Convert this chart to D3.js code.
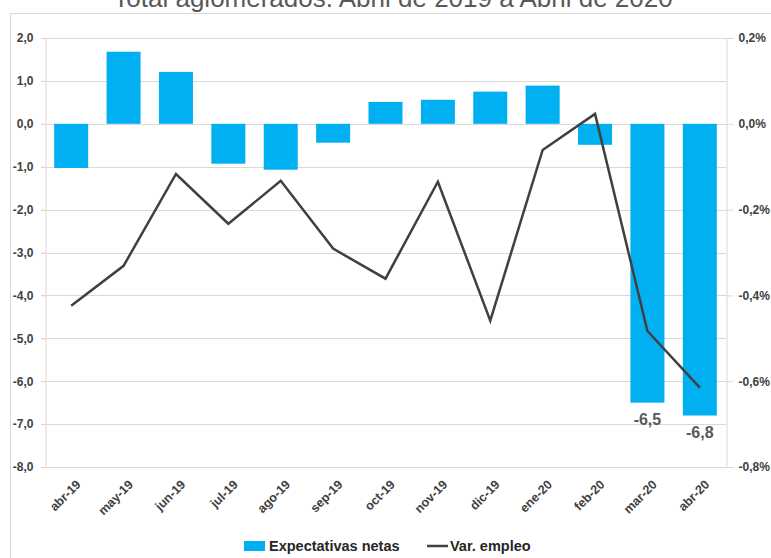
<!DOCTYPE html>
<html>
<meta charset="utf-8">
<title>Expectativas netas y Var. empleo</title>
<style>
  body { margin: 0; background: #fff; }
  text { font-family: "Liberation Sans", Arial, sans-serif; }
  .title { font-size: 26px; fill: #595959; }
  .axis text { font-size: 12px; font-weight: bold; fill: #404040; }
  .axis path, .axis line { stroke: #d9d9d9; }
  .grid line { stroke: #d9d9d9; stroke-width: 1; }
  .legend text { font-size: 14.5px; font-weight: bold; fill: #262626; }
</style>
<body>
<script src="https://d3js.org/d3.v7.min.js"></script>
<script>
// data
var months = ["abr-19", "may-19", "jun-19", "jul-19", "ago-19", "sep-19", "oct-19",
              "nov-19", "dic-19", "ene-20", "feb-20", "mar-20", "abr-20"];
var expectativas = [-1.03, 1.68, 1.21, -0.93, -1.07, -0.44, 0.51, 0.56, 0.75, 0.89, -0.49, -6.5, -6.8];
// Var. empleo, in percent
var empleo = [-0.424, -0.331, -0.117, -0.233, -0.133, -0.291, -0.361, -0.135, -0.459, -0.061, 0.023, -0.483, -0.615];
var leftTicks = [2, 1, 0, -1, -2, -3, -4, -5, -6, -7, -8];
var rightTicks = [0.2, 0, -0.2, -0.4, -0.6, -0.8];
var labelled = ["mar-20", "abr-20"];

var W = 771, H = 558;
var m = {top: 38, right: 45, bottom: 91, left: 45};

// spanish style numbers: comma decimal, plain hyphen minus
var es = d3.formatLocale({decimal: ",", thousands: ".", grouping: [3], currency: ["", "€"], minus: "-"});
var f1 = es.format(".1f");
var fPct = function(d) { return f1(d) + "%"; };

var svg = d3.select("body").append("svg")
    .attr("width", W)
    .attr("height", H);

// chart frame
svg.append("rect")
    .attr("x", 10.5).attr("y", 13.5)
    .attr("width", W + 20).attr("height", H + 20)
    .attr("fill", "none").attr("stroke", "#d9d9d9");

svg.append("text")
    .attr("class", "title")
    .attr("x", 393).attr("y", 7)
    .attr("text-anchor", "middle")
    .text("Total aglomerados. Abril de 2019 a Abril de 2020");

var x = d3.scaleBand()
    .domain(months)
    .range([m.left, W - m.right])
    .paddingInner(0.34)
    .paddingOuter(0.17);

var y = d3.scaleLinear().domain([-8, 2]).range([H - m.bottom, m.top]);
var y2 = d3.scaleLinear().domain([-0.8, 0.2]).range([H - m.bottom, m.top]);

// gridlines
svg.append("g").attr("class", "grid")
  .selectAll("line")
    .data(leftTicks)
  .enter().append("line")
    .attr("x1", m.left - 4).attr("x2", W - m.right)
    .attr("y1", function(d) { return Math.round(y(d)) + 0.5; })
    .attr("y2", function(d) { return Math.round(y(d)) + 0.5; });

svg.append("g")
    .attr("class", "axis")
    .attr("transform", "translate(" + (m.left + 0.5) + ",0)")
    .call(d3.axisLeft(y).tickValues(leftTicks).tickSize(4).tickPadding(8).tickFormat(f1));

svg.append("g")
    .attr("class", "axis")
    .attr("transform", "translate(" + (W - m.right + 0.5) + ",0)")
    .call(d3.axisRight(y2).tickValues(rightTicks).tickSize(7).tickPadding(5).tickFormat(fPct));

// bars
var bw = 34;
svg.append("g")
  .selectAll("rect")
    .data(months)
  .enter().append("rect")
    .attr("x", function(d) { return x(d) + x.bandwidth() / 2 - bw / 2; })
    .attr("width", bw)
    .attr("y", function(d, i) { return y(Math.max(0, expectativas[i])); })
    .attr("height", function(d, i) { return Math.abs(y(expectativas[i]) - y(0)); })
    .attr("fill", "#00b0f0");

// data labels
svg.append("g")
  .selectAll("text")
    .data(months.filter(function(d) { return labelled.indexOf(d) >= 0; }))
  .enter().append("text")
    .attr("x", function(d) { return x(d) + x.bandwidth() / 2; })
    .attr("y", function(d) { return y(expectativas[months.indexOf(d)]) + 22; })
    .attr("text-anchor", "middle")
    .style("font-size", "16px").style("font-weight", "bold").style("fill", "#595959")
    .text(function(d) { return f1(expectativas[months.indexOf(d)]); });

// line
var line = d3.line()
    .x(function(d, i) { return x(months[i]) + x.bandwidth() / 2; })
    .y(function(d) { return y2(d); });

svg.append("path")
    .datum(empleo)
    .attr("d", line)
    .attr("fill", "none")
    .attr("stroke", "#404040")
    .attr("stroke-width", 2.5)
    .attr("stroke-linejoin", "miter");

// x labels
svg.append("g").attr("class", "axis")
  .selectAll("text")
    .data(months)
  .enter().append("text")
    .attr("transform", function(d) {
      return "translate(" + (x(d) + x.bandwidth() / 2 + 4) + "," + (H - m.bottom + 12) + ") rotate(-45)";
    })
    .attr("text-anchor", "end")
    .attr("dy", "0.71em")
    .style("font-size", "12.5px")
    .text(function(d) { return d; });

// legend
var lg = svg.append("g").attr("class", "legend");
lg.append("rect")
    .attr("x", 244).attr("y", 541).attr("width", 21).attr("height", 10)
    .attr("fill", "#00b0f0");
lg.append("text").attr("x", 269).attr("y", 551).text("Expectativas netas");
lg.append("line")
    .attr("x1", 427).attr("x2", 448).attr("y1", 546).attr("y2", 546)
    .attr("stroke", "#404040").attr("stroke-width", 2.5);
lg.append("text").attr("x", 450).attr("y", 551).text("Var. empleo");
</script>
</body>
</html>
